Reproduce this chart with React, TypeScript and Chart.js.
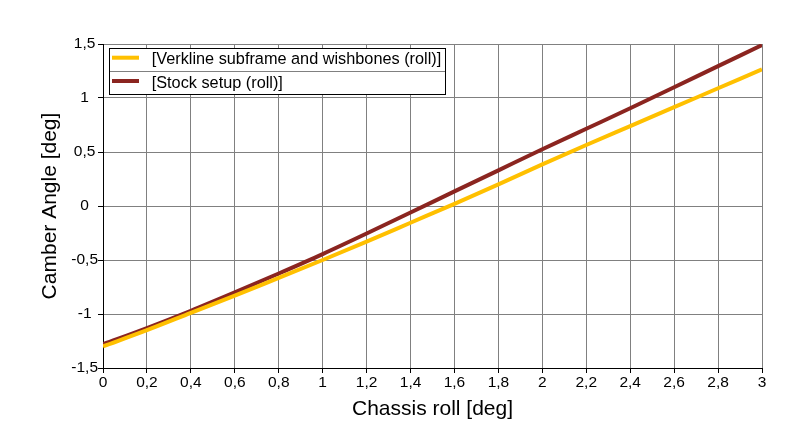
import React, { useEffect, useRef } from "react";
import { Chart, registerables } from "chart.js";

Chart.register(...registerables);

const rollDeg = [0, 0.2, 0.4, 0.6, 0.8, 1.0, 1.2, 1.4, 1.6, 1.8, 2.0, 2.2, 2.4, 2.6, 2.8, 3.0];
const verklineCamber = [-1.30, -1.15, -0.99, -0.83, -0.665, -0.50, -0.33, -0.155, 0.02, 0.20, 0.385, 0.565, 0.74, 0.915, 1.09, 1.265];
const stockCamber = [-1.28, -1.13, -0.97, -0.80, -0.625, -0.445, -0.255, -0.06, 0.135, 0.33, 0.525, 0.715, 0.905, 1.10, 1.295, 1.49];
const seriesLabels = ["[Verkline subframe and wishbones (roll)]", "[Stock setup (roll)]"];
const seriesColors = ["#FFC000", "#8B2520"];
const xTitle = "Chassis roll [deg]";
const yTitle = "Camber Angle [deg]";

const FONT = "'Liberation Sans', Arial, sans-serif";

const fmt = (v: number) => {
  const r = Math.round(v * 10) / 10;
  return String(r).replace(".", ",");
};

const legendPlugin = {
  id: "insideLegend",
  afterDraw(chart: any) {
    const ctx = chart.ctx;
    ctx.save();
    const left = 109.5, top = 48.5, right = 445.5, bottom = 94.5;
    ctx.fillStyle = "#fff";
    ctx.fillRect(left, top, right - left, bottom - top);
    ctx.strokeStyle = "#808080";
    ctx.lineWidth = 1;
    ctx.beginPath();
    ctx.moveTo(left, 71.5);
    ctx.lineTo(right, 71.5);
    ctx.stroke();
    ctx.strokeStyle = "#000";
    ctx.strokeRect(left, top, right - left, bottom - top);
    const lineYs = [57.7, 81];
    const textYs = [64.3, 87.7];
    chart.data.datasets.forEach((ds: any, i: number) => {
      ctx.strokeStyle = ds.borderColor;
      ctx.lineWidth = 4;
      ctx.beginPath();
      ctx.moveTo(112, lineYs[i]);
      ctx.lineTo(139, lineYs[i]);
      ctx.stroke();
      ctx.fillStyle = "#000";
      ctx.font = `16.3px ${FONT}`;
      ctx.textBaseline = "alphabetic";
      ctx.textAlign = "left";
      ctx.fillText(ds.label, 151.7, textYs[i]);
    });
    ctx.restore();
  },
};

export default function App() {
  const ref = useRef<HTMLCanvasElement>(null);
  useEffect(() => {
    if (!ref.current) return;
    const chart = new Chart(ref.current, {
      type: "line",
      data: {
        datasets: [verklineCamber, stockCamber].map((arr, i) => ({
          label: seriesLabels[i],
          data: rollDeg.map((x, j) => ({ x, y: arr[j] })),
          borderColor: seriesColors[i],
          backgroundColor: seriesColors[i],
          borderWidth: 4,
          pointRadius: 0,
          cubicInterpolationMode: "monotone" as const,
          fill: false,
        })),
      },
      options: {
        responsive: false,
        animation: false,
        layout: { padding: { top: 44, right: 41, left: 0, bottom: 0 } },
        plugins: { legend: { display: false }, tooltip: { enabled: false } },
        scales: {
          x: {
            type: "linear",
            min: 0,
            max: 3,
            afterFit: (s: any) => { s.height = 78; },
            ticks: {
              stepSize: 0.2,
              color: "#000",
              font: { family: FONT, size: 15.5 },
              padding: 0,
              maxRotation: 0,
              autoSkip: false,
              callback: (v: any) => fmt(Number(v)),
            },
            grid: { color: "#808080", tickColor: "#000", tickLength: 5, lineWidth: 1 },
            border: { color: "#000", width: 1 },
            title: {
              display: true,
              text: xTitle,
              color: "#000",
              font: { family: FONT, size: 21 },
              padding: { top: 0, bottom: 24 },
            },
          },
          y: {
            type: "linear",
            min: -1.5,
            max: 1.5,
            afterFit: (s: any) => { s.width = 103; },
            ticks: {
              stepSize: 0.5,
              color: "#000",
              font: { family: FONT, size: 15.5 },
              padding: 0,
              crossAlign: "center",
              callback: (v: any) => fmt(Number(v)),
            },
            grid: { color: "#808080", tickColor: "#000", tickLength: 5, lineWidth: 1 },
            border: { color: "#000", width: 1 },
            title: {
              display: true,
              text: yTitle,
              color: "#000",
              font: { family: FONT, size: 21 },
              padding: { top: 38, bottom: 0 },
            },
          },
        },
      },
      plugins: [legendPlugin],
    });
    return () => chart.destroy();
  }, []);
  return (
    <div style={{ position: "absolute", left: 0, top: 0, width: 803, height: 446, background: "#fff" }}>
      <canvas ref={ref} width={803} height={446} style={{ width: 803, height: 446, display: "block" }} />
    </div>
  );
}
